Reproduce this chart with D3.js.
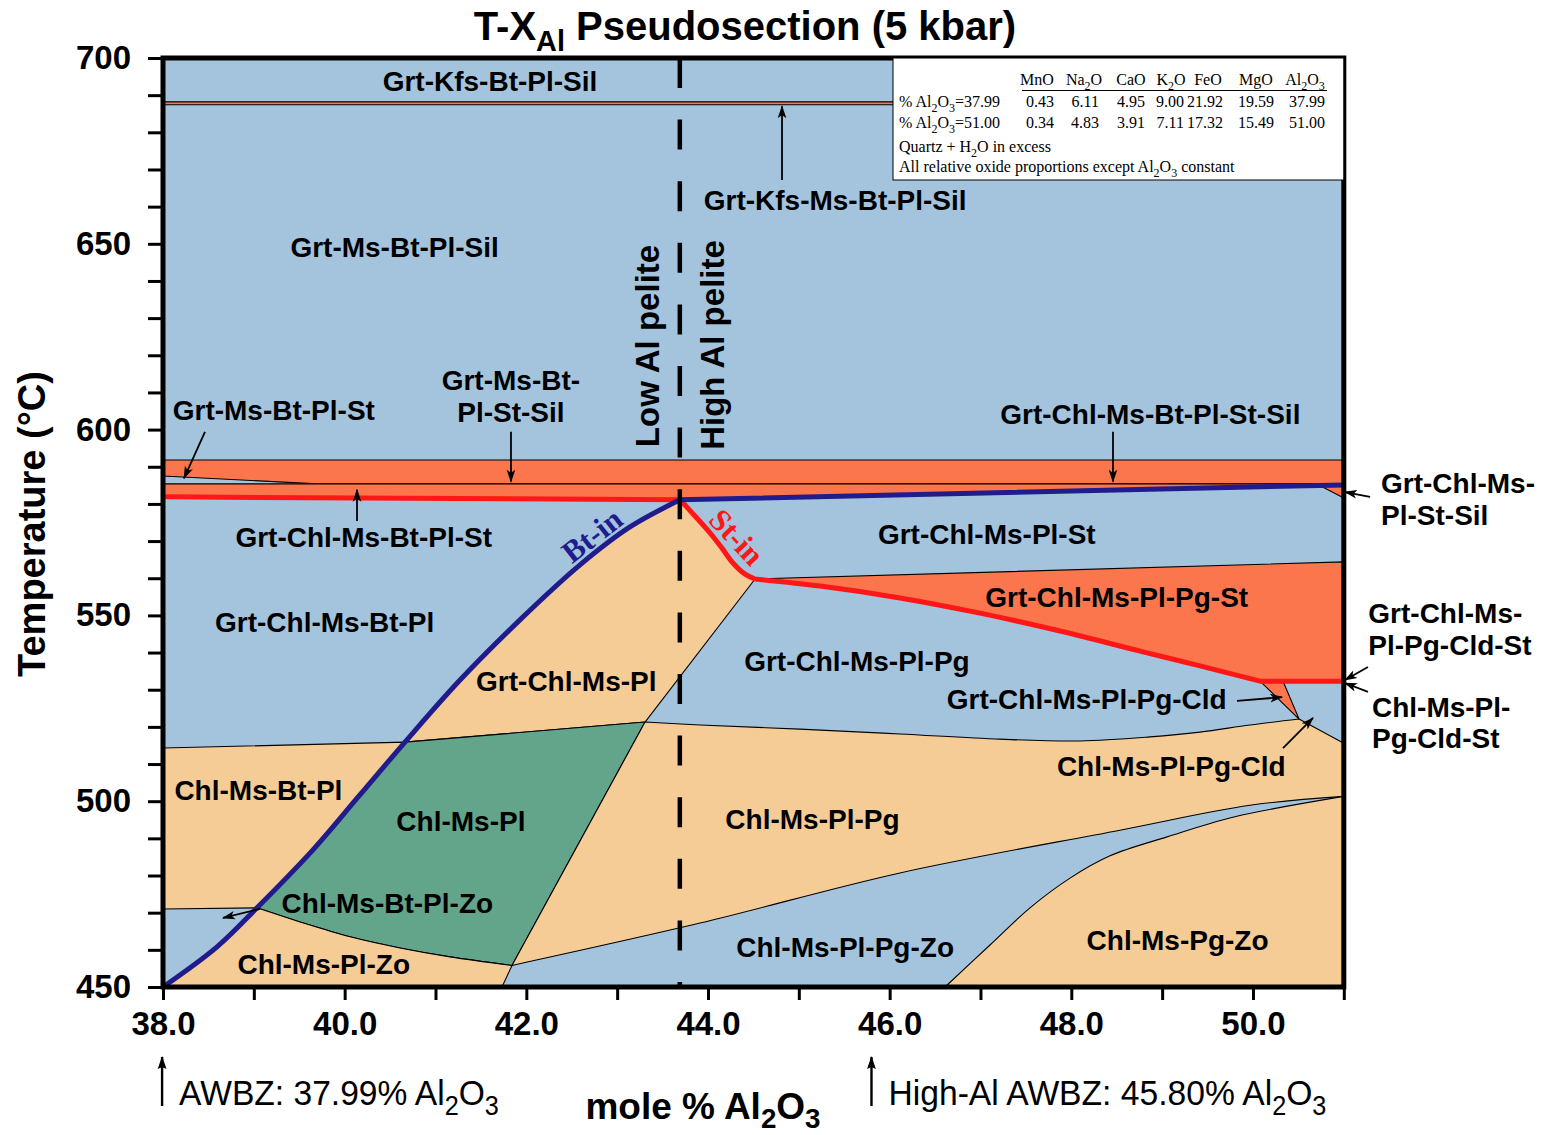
<!DOCTYPE html>
<html><head><meta charset="utf-8">
<script src="https://cdn.jsdelivr.net/npm/d3@7"></script>
<style>body{margin:0;background:#fff}svg{display:block}</style>
</head><body>
<svg id="c" width="1541" height="1135"></svg>
<script>
// ---------- DATA (X = mole % Al2O3, T = °C) ----------
const xTicks = [38,39,40,41,42,43,44,45,46,47,48,49,50,51];
const xLabelTicks = [38,40,42,44,46,48,50];
const yTicks = [450,460,470,480,490,500,510,520,530,540,550,560,570,580,590,600,610,620,630,640,650,660,670,680,690,700];
const yLabelTicks = [450,500,550,600,650,700];

// phase boundaries
const btIn = [[38.0,450.0],[38.595,460.8],[39.035,471.3],[39.651,486.9],[40.158,501.4],[40.664,515.9],[41.270,532.6],[41.930,548.8],[42.591,563.6],[43.141,573.8],[43.692,581.1]];
const btInUpper = [[43.692,581.1],[51.0,585.1]];
const stInLow = [[38.0,581.9],[43.692,581.1]];
const stInCurve = [[43.692,581.1],[43.857,576.75],[44.022,572.2],[44.154,568.1],[44.275,564.1],[44.408,561.1],[44.518,559.8]];
const stInPg = [[44.518,559.8],[45.233,557.9],[46.114,554.7],[46.995,550.6],[47.876,545.8],[48.756,540.4],[49.417,536.4],[50.078,532.3]];
const stInFlat = [[50.078,532.3],[51.0,532.3]];
const kfsBand = [[38.0,688.2],[51.0,688.2],[51.0,687.4],[38.0,687.4]];
const silBand = [[38.0,591.8],[51.0,591.8],[51.0,585.4],[39.695,585.4],[38.0,587.5]];
const silBandBase = [[38.0,585.4],[51.0,585.4],[51.0,585.1]];
const silTri = [[50.74,584.9],[51.0,585.1],[51.0,581.6]];
const line515 = [[38.0,514.3],[40.664,515.9]];
const grtOut = [[40.664,515.9],[43.307,521.3]];
const plPgEdge = [[44.518,559.8],[43.307,521.3]];
const stTop = [[44.518,559.8],[51.0,564.4]];
const pgTop = [[43.307,521.3],[43.912,520.5],[45.013,519.4],[46.114,518.1],[47.215,516.7],[48.096,516.2],[48.866,517.3],[49.417,518.6],[49.967,520.5],[50.507,522.1]];
const cldStEdge = [[50.507,522.1],[51.0,515.6],[51.0,501.3]];
const greenRight = [[43.307,521.3],[41.842,455.8]];
const greenBottom = [[39.035,471.3],[39.508,467.5],[40.059,463.5],[40.609,460.5],[41.160,458.1],[41.842,455.8]];
const zoFoot = [[41.842,455.8],[41.732,450.0]];
const zoUpper = [[41.842,455.8],[43.912,467.2],[46.114,480.7],[48.536,492.2],[49.967,498.9],[51.0,501.3]];
const zoLower = [[46.610,450.0],[47.105,461.3],[47.545,471.3],[47.986,479.3],[48.426,485.3],[49.054,490.4],[49.780,495.7],[51.0,501.3]];
const line471 = [[38.0,471.0],[39.035,471.3]];
const cldTri = [[50.078,532.3],[50.331,532.3],[50.507,522.1]];
const pelitesX = 43.69;

const fieldLabels = [
 ["Grt-Kfs-Bt-Pl-Sil", 41.60, 693.8],
 ["Grt-Kfs-Ms-Bt-Pl-Sil", 45.40, 661.8],
 ["Grt-Ms-Bt-Pl-Sil", 40.55, 649.1],
 ["Grt-Ms-Bt-Pl-St", 39.22, 605.3],
 ["Grt-Ms-Bt-", 41.83, 613.3],
 ["Pl-St-Sil", 41.83, 604.7],
 ["Grt-Chl-Ms-Bt-Pl-St-Sil", 48.87, 604.2],
 ["Grt-Chl-Ms-Bt-Pl-St", 40.21, 571.1],
 ["Grt-Chl-Ms-Pl-St", 47.07, 571.9],
 ["Grt-Chl-Ms-Bt-Pl", 39.78, 548.2],
 ["Grt-Chl-Ms-Pl-Pg-St", 48.50, 554.95],
 ["Grt-Chl-Ms-Pl", 42.44, 532.3],
 ["Grt-Chl-Ms-Pl-Pg", 45.64, 537.7],
 ["Grt-Chl-Ms-Pl-Pg-Cld", 48.17, 527.5],
 ["Chl-Ms-Pl-Pg-Cld", 49.10, 509.5],
 ["Chl-Ms-Bt-Pl", 39.05, 503.0],
 ["Chl-Ms-Pl", 41.28, 494.7],
 ["Chl-Ms-Pl-Pg", 45.15, 495.2],
 ["Chl-Ms-Bt-Pl-Zo", 40.47, 472.6],
 ["Chl-Ms-Pl-Zo", 39.77, 456.2],
 ["Chl-Ms-Pl-Pg-Zo", 45.51, 460.8],
 ["Chl-Ms-Pg-Zo", 49.17, 462.7]
];
const sideLabels = [
 ["Grt-Chl-Ms-", 51.41, 585.6], ["Pl-St-Sil", 51.41, 577.0],
 ["Grt-Chl-Ms-", 51.27, 550.6], ["Pl-Pg-Cld-St", 51.27, 542.0],
 ["Chl-Ms-Pl-", 51.31, 525.4], ["Pg-Cld-St", 51.31, 517.0]
];
const arrows = [
 [[44.815,667.2],[44.815,687.0]],
 [[38.462,599.4],[38.231,586.9]],
 [[41.831,599.4],[41.831,586.0]],
 [[48.459,599.4],[48.459,586.0]],
 [[40.136,575.4],[40.136,583.8]],
 [[51.289,581.9],[51.013,583.2]],
 [[51.266,536.1],[51.013,532.6]],
 [[51.266,529.4],[51.013,531.8]],
 [[49.824,527.0],[50.320,528.0]],
 [[50.331,514.3],[50.661,522.4]],
 [[39.068,471.0],[38.661,468.6]]
];
const oxides = ["MnO","Na2O","CaO","K2O","FeO","MgO","Al2O3"];
const compLow = [0.43,6.11,4.95,9.00,21.92,19.59,37.99];
const compHigh = [0.34,4.83,3.91,7.11,17.32,15.49,51.00];
const rowNames = ["% Al2O3=37.99","% Al2O3=51.00"];
const notes = ["Quartz + H2O in excess","All relative oxide proportions except Al2O3 constant"];
const awbz = [[37.99,"AWBZ: 37.99% Al2O3"],[45.80,"High-Al AWBZ: 45.80% Al2O3"]];

// ---------- DRAW ----------
const svg = d3.select("#c");
const FONT = "'Liberation Sans', Arial, Helvetica, sans-serif";
const SERIF = "'Liberation Serif', 'Times New Roman', serif";
const col = {blue:"#a4c4de", tan:"#f5cc96", orange:"#fb754d", green:"#63a58b", navy:"#211c8c", red:"#ff1616"};
const x = d3.scaleLinear().domain([38,51]).range([163,1343.8]);
const y = d3.scaleLinear().domain([450,700]).range([987,58]);
const C = d3.curveCatmullRom.alpha(0.5);
const L = d3.curveLinear;
const rev = a => a.slice().reverse();
function seg(pts, curve){ return d3.line().x(d=>x(d[0])).y(d=>y(d[1])).curve(curve||L)(pts); }
function poly(parts){ return parts.map((p,i)=>{ const s=seg(p[0],p[1]); return i? s.replace(/^M/,"L"):s; }).join("")+"Z"; }

svg.append("rect").attr("width",1541).attr("height",1135).attr("fill","#fff");
svg.append("rect").attr("x",x(38)).attr("y",y(700)).attr("width",x(51)-x(38)).attr("height",y(450)-y(700)).attr("fill",col.blue);

const regions = [
 [col.orange, [[kfsBand]]],
 [col.orange, [[silBand]]],
 [col.orange, [[silBandBase],[rev(btInUpper)],[rev(stInLow)]]],
 [col.orange, [[silTri]]],
 [col.tan, [[btIn.slice(5),C],[stInCurve,C],[plPgEdge]]],
 [col.orange, [[stTop],[rev(stInFlat)],[rev(stInPg),C]]],
 [col.tan, [[line515],[rev(btIn.slice(2,6)),C],[rev(line471)]]],
 [col.green, [[btIn.slice(2,6),C],[grtOut],[greenRight],[rev(greenBottom),C]]],
 [col.tan, [[btIn.slice(0,3),C],[greenBottom,C],[zoFoot]]],
 [col.tan, [[pgTop,C],[cldStEdge],[rev(zoUpper),C],[rev(greenRight)]]],
 [col.tan, [[zoLower,C],[[[51,501.3],[51,450]]]]],
 [col.orange, [[cldTri]]]
];
const gR = svg.append("g");
regions.forEach(r=>{
  gR.append("path").attr("d",poly(r[1])).attr("fill",r[0]).attr("stroke","#000").attr("stroke-width",1.1).attr("stroke-linejoin","round");
});

// thick reaction lines
svg.append("path").attr("d", seg(stInLow)+seg(stInCurve,C).replace(/^M/,"L")+seg(stInPg,C).replace(/^M/,"L")+seg(stInFlat).replace(/^M/,"L"))
  .attr("fill","none").attr("stroke",col.red).attr("stroke-width",5).attr("stroke-linejoin","round");
svg.append("path").attr("d", seg(btIn,C)+seg(btInUpper).replace(/^M/,"L"))
  .attr("fill","none").attr("stroke",col.navy).attr("stroke-width",5).attr("stroke-linejoin","round");

// dashed divider
svg.append("line").attr("x1",x(pelitesX)).attr("x2",x(pelitesX)).attr("y1",y(700)).attr("y2",y(450))
  .attr("stroke","#000").attr("stroke-width",4.5).attr("stroke-dasharray","30 31.6");

// frame
svg.append("rect").attr("x",x(38)).attr("y",y(700)).attr("width",x(51)-x(38)).attr("height",y(450)-y(700))
  .attr("fill","none").attr("stroke","#000").attr("stroke-width",5);

// text helpers
function chemSegs(str){
  const segs=[]; let cur="", curSub=false;
  for(let i=0;i<str.length;i++){
    const ch=str[i];
    const sub=/\d/.test(ch) && i>0 && (/[A-Za-z]/.test(str[i-1]) || (curSub && /\d/.test(str[i-1])));
    if(sub!==curSub && cur){segs.push({t:cur,sub:curSub}); cur="";}
    curSub=sub; cur+=ch;
  }
  if(cur) segs.push({t:cur,sub:curSub});
  return segs;
}
function richText(sel, segs, size, shift, scale){
  let off=0;
  segs.forEach(s=>{
    const target = s.sub? size*(shift||0.3):0;
    const ts=sel.append("tspan").text(s.t);
    if(target-off!==0) ts.attr("dy", target-off);
    if(s.sub) ts.attr("font-size", size*(scale||0.72));
    off=target;
  });
}

// arrows
const defs = svg.append("defs");
defs.append("marker").attr("id","ah").attr("viewBox","0 -5 12 10").attr("refX",11).attr("refY",0)
  .attr("markerWidth",13).attr("markerHeight",11).attr("markerUnits","userSpaceOnUse").attr("orient","auto")
  .append("path").attr("d","M0,-4L12,0L0,4L3,0Z").attr("fill","#000");
defs.append("marker").attr("id","ah2").attr("viewBox","0 -5 12 10").attr("refX",11).attr("refY",0)
  .attr("markerWidth",17).attr("markerHeight",11).attr("markerUnits","userSpaceOnUse").attr("orient","auto")
  .append("path").attr("d","M0,-4L12,0L0,4L2,0Z").attr("fill","#000");
svg.append("g").selectAll("line").data(arrows).join("line")
  .attr("x1",d=>x(d[0][0])).attr("y1",d=>y(d[0][1])).attr("x2",d=>x(d[1][0])).attr("y2",d=>y(d[1][1]))
  .attr("stroke","#000").attr("stroke-width",1.8).attr("marker-end","url(#ah)");

// field labels
svg.append("g").selectAll("text").data(fieldLabels).join("text")
  .attr("x",d=>x(d[1])).attr("y",d=>y(d[2])).attr("dy","0.36em").attr("text-anchor","middle")
  .attr("font-family",FONT).attr("font-weight","bold").attr("font-size",28).attr("fill","#000").text(d=>d[0]);
svg.append("g").selectAll("text").data(sideLabels).join("text")
  .attr("x",d=>x(d[1])).attr("y",d=>y(d[2])).attr("dy","0.36em").attr("text-anchor","start")
  .attr("font-family",FONT).attr("font-weight","bold").attr("font-size",28).attr("fill","#000").text(d=>d[0]);

// reaction labels
svg.append("text").attr("transform",`translate(${x(42.72)},${y(571.6)}) rotate(-38)`).attr("text-anchor","middle").attr("dy","0.35em")
  .attr("font-family",SERIF).attr("font-weight","bold").attr("font-size",31).attr("fill",col.navy).text("Bt-in");
svg.append("text").attr("transform",`translate(${x(44.32)},${y(571.1)}) rotate(47)`).attr("text-anchor","middle").attr("dy","0.35em")
  .attr("font-family",SERIF).attr("font-weight","bold").attr("font-size",31).attr("fill",col.red).text("St-in");

// pelite labels
svg.append("text").attr("transform",`translate(${x(pelitesX)-21},346) rotate(-90)`).attr("text-anchor","middle")
  .attr("font-family",FONT).attr("font-weight","bold").attr("font-size",33).text("Low Al pelite");
svg.append("text").attr("transform",`translate(${x(pelitesX)+44},345) rotate(-90)`).attr("text-anchor","middle")
  .attr("font-family",FONT).attr("font-weight","bold").attr("font-size",33).text("High Al pelite");

// composition table
const TS = 16;
const tb = svg.append("g").attr("font-family",SERIF).attr("font-size",TS).attr("fill","#000");
tb.append("rect").attr("x",893).attr("y",58).attr("width",x(51)-893).attr("height",122).attr("fill","#fff").attr("stroke","#000").attr("stroke-width",1);
const hdrX=[1037,1084,1131,1171,1208,1256,1305], valX=[1054,1099,1145,1184,1223,1274,1325];
oxides.forEach((o,i)=>{ const t=tb.append("text").attr("x",hdrX[i]).attr("y",85).attr("text-anchor","middle"); richText(t,chemSegs(o),TS,0.3,0.75); });
tb.append("line").attr("x1",1022).attr("x2",1327).attr("y1",90.5).attr("y2",90.5).attr("stroke","#000").attr("stroke-width",1);
[compLow,compHigh].forEach((row,r)=>{
  const yy = r? 128:107;
  const t=tb.append("text").attr("x",899).attr("y",yy); richText(t,chemSegs(rowNames[r]),TS,0.3,0.75);
  row.forEach((v,i)=>tb.append("text").attr("x",valX[i]).attr("y",yy).attr("text-anchor","end").text(v.toFixed(2)));
});
notes.forEach((n,i)=>{ const t=tb.append("text").attr("x",899).attr("y",i?172:152); richText(t,chemSegs(n),TS,0.3,0.75); });

// axes
const gy = svg.append("g").attr("transform",`translate(${x(38)},0)`)
  .call(d3.axisLeft(y).tickValues(yTicks).tickSize(15).tickPadding(17).tickFormat(d=>yLabelTicks.includes(d)?d:""));
gy.select(".domain").remove();
gy.selectAll(".tick line").attr("stroke","#000").attr("stroke-width",3);
gy.selectAll(".tick text").attr("font-family",FONT).attr("font-weight","bold").attr("font-size",33).attr("fill","#000");
const gx = svg.append("g").attr("transform",`translate(0,${y(450)})`)
  .call(d3.axisBottom(x).tickValues(xTicks).tickSize(13).tickPadding(12).tickFormat(d=>xLabelTicks.includes(d)?d.toFixed(1):""));
gx.select(".domain").remove();
gx.selectAll(".tick line").attr("stroke","#000").attr("stroke-width",3);
gx.selectAll(".tick text").attr("font-family",FONT).attr("font-weight","bold").attr("font-size",33).attr("fill","#000");

// title & axis titles
const title = svg.append("text").attr("x",745).attr("y",40).attr("text-anchor","middle")
  .attr("font-family",FONT).attr("font-weight","bold").attr("font-size",40);
richText(title,[{t:"T-X"},{t:"Al",sub:true},{t:" Pseudosection (5 kbar)"}],40,0.28,0.72);
const xt = svg.append("text").attr("x",703).attr("y",1119).attr("text-anchor","middle")
  .attr("font-family",FONT).attr("font-weight","bold").attr("font-size",37);
richText(xt,chemSegs("mole % Al2O3"),37,0.25,0.75);
svg.append("text").attr("transform","translate(45,524) rotate(-90)").attr("text-anchor","middle")
  .attr("font-family",FONT).attr("font-weight","bold").attr("font-size",38).text("Temperature (°C)");

// AWBZ annotations
const awLen=[320,438];
awbz.forEach((a,i)=>{
  const ax=x(a[0]);
  svg.append("line").attr("x1",ax).attr("x2",ax).attr("y1",1106).attr("y2",1057)
    .attr("stroke","#000").attr("stroke-width",2.4).attr("marker-end","url(#ah2)");
  const t=svg.append("text").attr("x",0).attr("y",0).attr("font-family",FONT).attr("font-size",36);
  richText(t,chemSegs(a[1]),36,0.28,0.75);
  const w=t.node().getBBox().width;
  t.attr("transform",`translate(${ax+17},1105) scale(${awLen[i]/w},1)`);
});
</script>
</body></html>
